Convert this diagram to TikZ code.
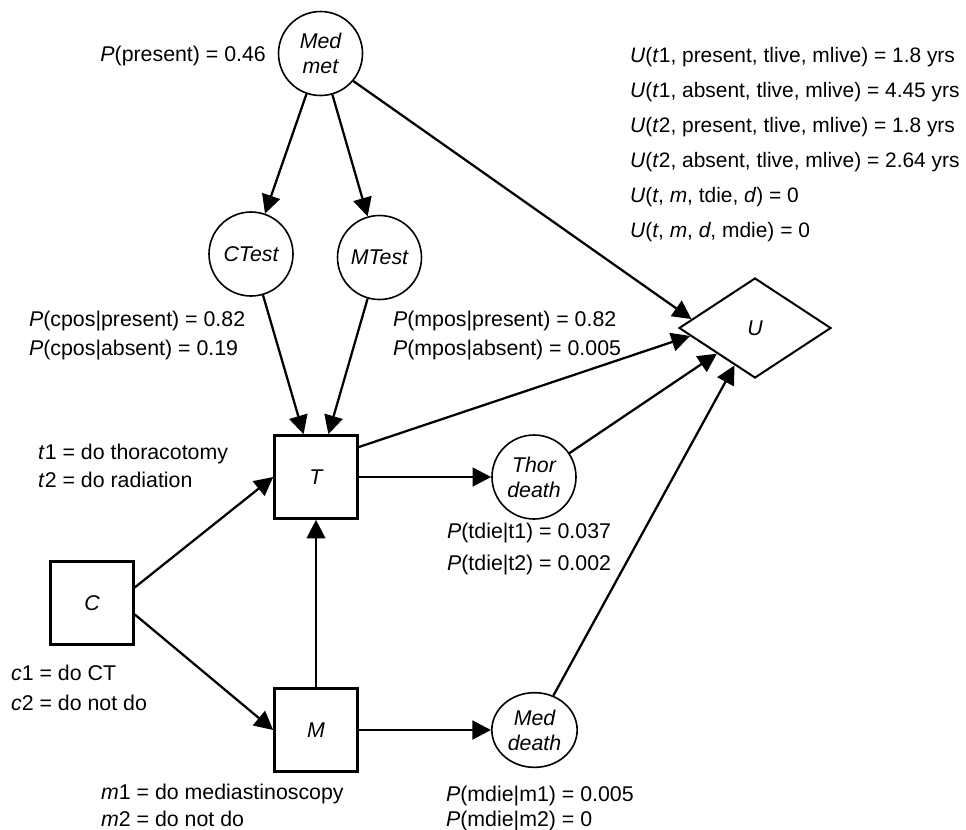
\documentclass[tikz,border=0pt]{standalone}
\usepackage{fontspec}
\setmainfont{Liberation Sans}
\usetikzlibrary{arrows.meta,shapes.geometric}

\begin{document}
\begin{tikzpicture}[x=0.75pt, y=-0.75pt, >={Triangle[length=14pt,width=14pt]}, line width=1.7pt,
		chance/.style={circle, draw, line width=1.2pt, minimum size=63pt, inner sep=0pt, align=center, font=\fontsize{16}{18.75}\selectfont\itshape},
		decision/.style={rectangle, draw, line width=2.2pt, minimum size=62pt, inner sep=0pt, font=\fontsize{16}{19}\selectfont\itshape},
		value/.style={diamond, draw, line width=1.5pt, minimum width=114pt, minimum height=75pt, inner sep=0pt, font=\fontsize{16}{19}\selectfont\itshape},
		note/.style={anchor=base west, align=left, inner sep=0pt, font=\fontsize{16}{#1}\selectfont}]
	\useasboundingbox (0,0) rectangle (966,829);
	
	% 1. chance nodes
	\node[chance] (medmet) at (320.5, 53.5) {Med\\met};
	\node[chance] (ctest) at (251, 254) {CTest};
	\node[chance] (mtest) at (379.5, 257.5) {MTest};
	\node[chance] (thor) at (534, 477) {Thor\\death};
	\node[chance, ellipse, minimum width=64pt, minimum height=56pt] (meddeath) at (534.5, 730) {Med\\death};
	
	% 2. decision nodes and utility
	\node[decision] (T) at (316, 477) {T};
	\node[decision] (C) at (92, 603) {C};
	\node[decision] (M) at (316, 730) {M};
	\node[value] (U) at (755, 328) {U};
	
	% 3. tables (anchored at the baseline of the last line)
	\node[note=19pt, anchor=base east] (pmed) at (267, 61) {\textit{P}(present) = 0.46};
	\node[note=26.25pt, font=\fontsize{15.7}{26.25}\selectfont] (utab) at (629, 237) {\textit{U}(\textit{t}1, present, tlive, mlive) = 1.8 yrs\\
		\textit{U}(\textit{t}1, absent, tlive, mlive) = 4.45 yrs\\
		\textit{U}(\textit{t}2, present, tlive, mlive) = 1.8 yrs\\
		\textit{U}(\textit{t}2, absent, tlive, mlive) = 2.64 yrs\\
		\textit{U}(\textit{t}, \textit{m}, tdie, \textit{d}) = 0\\
		\textit{U}(\textit{t}, \textit{m}, \textit{d}, mdie) = 0};
	\node[note=21.75pt] (ctab) at (28, 355) {\textit{P}(cpos|present) = 0.82\\\textit{P}(cpos|absent) = 0.19};
	\node[note=21.75pt] (mtab) at (392, 355) {\textit{P}(mpos|present) = 0.82\\\textit{P}(mpos|absent) = 0.005};
	\node[note=21pt] (ttab) at (37, 487) {\textit{t}1 = do thoracotomy\\\textit{t}2 = do radiation};
	\node[note=24pt] (tdtab) at (446, 570) {\textit{P}(tdie|t1) = 0.037\\\textit{P}(tdie|t2) = 0.002};
	\node[note=22.5pt] (cctab) at (10, 710) {\textit{c}1 = do CT\\\textit{c}2 = do not do};
	\node[note=20.25pt] (mmtab) at (100, 826) {\textit{m}1 = do mediastinoscopy\\\textit{m}2 = do not do};
	\node[note=18.75pt] (mdtab) at (445, 826) {\textit{P}(mdie|m1) = 0.005\\\textit{P}(mdie|m2) = 0};
	
	% 4. arcs
	\draw[->] (medmet) -- (ctest);
	\draw[->] (medmet) -- (mtest);
	\draw[->] (medmet.-40) -- (U.172);
	\draw[->] (ctest) -- (T);
	\draw[->] (mtest) -- (T);
	\draw[->] (C.20) -- (T.west);
	\draw[->] (C.-15) -- (M.west);
	\draw[->] (M) -- (T);
	\draw[->, line width=2.2pt] (T) -- (thor);
	\draw[->, line width=2.2pt] (M) -- (meddeath);
	\draw[->] (T.35) -- (U.187);
	\draw[->] (thor) -- (U);
	\draw[->] (meddeath) -- (U);
\end{tikzpicture}
\end{document}
